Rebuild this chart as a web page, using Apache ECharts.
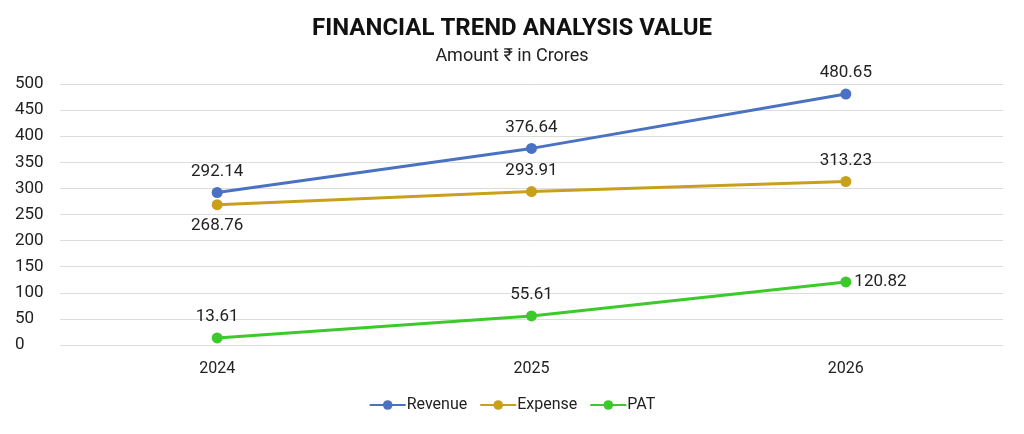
<!DOCTYPE html>
<html>
<head>
<meta charset="UTF-8">
<script src="https://cdn.jsdelivr.net/npm/echarts@6/dist/echarts.min.js"></script>
<style>html,body{margin:0;padding:0;background:#fff}#chart{width:1024px;height:434px}</style>
</head>
<body>
<div id="chart"></div>
<script>
var years = ['2024', '2025', '2026'];
var revenue = [292.14, 376.64, 480.65];
var expense = [268.76, 293.91, 313.23];
var pat = [13.61, 55.61, 120.82];

var chart = echarts.init(document.getElementById('chart'));
function line(name, data, color, positions) {
	return {
		name: name, type: 'line', data: data.map(function (v, i) {
			return { value: v, label: { position: positions[i], distance: positions[i] == 'right' ? 3 : 7 } };
		}),
		symbol: 'circle', symbolSize: 11,
		lineStyle: { color: color, width: 3 }, itemStyle: { color: color },
		label: { show: true, color: '#222', fontSize: 17 }
	};
}
chart.setOption({
	textStyle: { fontFamily: 'Roboto' },
	title: {
		text: 'FINANCIAL TREND ANALYSIS VALUE', subtext: 'Amount ₹ in Crores',
		left: 'center', top: 12, itemGap: 6,
		textStyle: { fontSize: 24, fontWeight: 'bold', color: '#111' },
		subtextStyle: { fontSize: 18, color: '#222' }
	},
	legend: {
		bottom: 16, itemWidth: 36, itemHeight: 12, itemGap: 12,
		textStyle: { fontSize: 16, color: '#222', padding: [0, 0, 0, -4] },
		data: ['Revenue', 'Expense', 'PAT']
	},
	grid: { left: 60, right: 21, top: 84, bottom: 89 },
	xAxis: {
		type: 'category', data: years,
		axisLine: { show: false }, axisTick: { show: false },
		axisLabel: { fontSize: 16, color: '#222', margin: 16 }
	},
	yAxis: {
		type: 'value', min: 0, max: 500, interval: 50,
		axisLabel: { fontSize: 17, color: '#222', margin: 45, align: 'left' },
		splitLine: { lineStyle: { color: '#dcdcdc' } }
	},
	series: [
		line('Revenue', revenue, '#4a72c2', ['top', 'top', 'top']),
		line('Expense', expense, '#c9a01c', ['bottom', 'top', 'top']),
		line('PAT', pat, '#3cc92b', ['top', 'top', 'right'])
	]
});
</script>
</body>
</html>
